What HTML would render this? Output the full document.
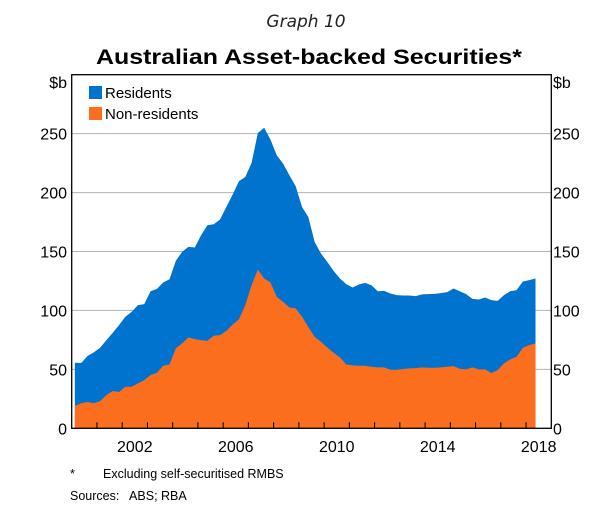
<!DOCTYPE html>
<html><head><meta charset="utf-8"><style>
html,body{margin:0;padding:0;background:#fff;}
svg{display:block;font-family:"Liberation Sans",sans-serif;}
</style></head><body>
<svg id="chart" width="612" height="530" viewBox="0 0 612 530">
<text x="306" y="27" text-anchor="middle" font-family="DejaVu Sans, sans-serif" font-style="italic" font-size="17" fill="#222">Graph 10</text>
<text x="309" y="64" text-anchor="middle" font-weight="bold" font-size="21" textLength="426" lengthAdjust="spacingAndGlyphs" fill="#000">Australian Asset-backed Securities*</text>
<g id="grid"></g>
<g id="areas"></g>
<rect x="71.7" y="74.7" width="479.6" height="353.6" fill="none" stroke="#000" stroke-width="1.3"/>
<g id="ticks"></g>
<g id="ylabels" font-size="16" fill="#000"></g>
<g id="xlabels" font-size="16" fill="#000"></g>
<text x="67" y="88" text-anchor="end" font-size="16">$b</text>
<text x="553" y="88" font-size="16">$b</text>
<g>
<rect x="89" y="86" width="13" height="13" fill="#0073cf"/>
<text x="105" y="98" font-size="15">Residents</text>
<rect x="89" y="107" width="13" height="13" fill="#fa6e1e"/>
<text x="105" y="119" font-size="15">Non-residents</text>
</g>
<text x="70" y="478" font-size="12.5">*</text>
<text x="103" y="478" font-size="12.5">Excluding self-securitised RMBS</text>
<text x="70" y="500" font-size="12.5" xml:space="preserve">Sources:   ABS; RBA</text>
</svg>
<script>
const startYear = 2000.125;
const nonResidents = [18.9,21.2,22.3,21.2,23.1,28.2,31.6,30.8,35.3,35.3,38.1,40.9,45.2,47.1,53.1,54.2,67.8,72,77.1,75.7,74.8,74.2,78.5,79.1,82.5,88.1,92.4,104.5,121.4,134.7,127.1,123.7,111.5,107.3,
102.5,101.7,94.6,86.1,77.6,73.4,68.6,64.1,60.2,54.2,53.4,53.1,53.1,52.2,51.7,51.7,49.7,49.7,50.3,50.8,51.1,51.7,51.4,51.4,51.7,52.2,52.8,50.5,50,51.7,50,50,46.9,49.4,55.1,58.5,60.7,68.3,70.6,72];
const residents = [36.7,34.2,39.0,43.2,45.2,46.6,49.4,56.7,59.3,63.5,66.4,64.4,71.1,71.2,70.6,72.3,74.2,77.7,76.8,77.7,89.0,98.1,94.6,98.0,105.3,110.2,117.2,108.7,103.7,115.8,127.9,121.2,120.1,117.3,
112.2,103.6,93.2,93.2,80.5,74.9,72.6,69.5,66.9,68.1,66.1,68.9,70.3,69.2,64.6,64.9,64.7,63.3,62.4,61.9,61.0,61.9,62.4,62.7,63.0,63.3,65.8,65.8,63.8,58.1,59.3,61.0,61.8,58.7,57.9,57.8,56.5,56.3,55.1,55.1];
const yTicks = [0,50,100,150,200,250];
const xLabelYears = [2002,2006,2010,2014,2018];

const NS = 'http://www.w3.org/2000/svg';
const X0 = 71.7, X1 = 551.3, Y0 = 428.3, Y1 = 74.7;
const xMin = 2000, xMax = 2019, yMin = 0, yMax = 300;
function xs(t){ return X0 + (t - xMin) / (xMax - xMin) * (X1 - X0); }
function ys(v){ return Y0 - (v - yMin) / (yMax - yMin) * (Y0 - Y1); }
function mk(tag, attrs, parent){ const e = document.createElementNS(NS, tag); for (const k in attrs) e.setAttribute(k, attrs[k]); parent.appendChild(e); return e; }

const grid = document.getElementById('grid');
const yl = document.getElementById('ylabels');
yTicks.forEach(v => {
  if (v > 0) {
    const g = mk('line', {x1: X0, x2: X1, y1: ys(v), y2: ys(v), stroke: '#b3b3b3', 'stroke-width': 1}, grid);
    
    
  }
  const l = mk('text', {x: 67, y: ys(v) + 6, 'text-anchor': 'end'}, yl);
  l.textContent = v;
  
  
  const r = mk('text', {x: 553, y: ys(v) + 6}, yl);
  r.textContent = v;
  
  
});

const areas = document.getElementById('areas');
const ts = nonResidents.map((_, i) => startYear + i * 0.25);
const tops = nonResidents.map((v, i) => v + residents[i]);
let pBlue = 'M' + xs(ts[0]) + ',' + ys(0);
ts.forEach((t, i) => { pBlue += ' L' + xs(t) + ',' + ys(tops[i]); });
pBlue += ' L' + xs(ts[ts.length-1]) + ',' + ys(0) + ' Z';
const blue = mk('path', {d: pBlue, fill: '#0073cf'}, areas);


let pOr = 'M' + xs(ts[0]) + ',' + ys(0);
ts.forEach((t, i) => { pOr += ' L' + xs(t) + ',' + ys(nonResidents[i]); });
pOr += ' L' + xs(ts[ts.length-1]) + ',' + ys(0) + ' Z';
const orange = mk('path', {d: pOr, fill: '#fa6e1e'}, areas);



const ticks = document.getElementById('ticks');
for (let yr = 2001; yr <= 2018; yr++) {
  const tk = mk('line', {x1: xs(yr), x2: xs(yr), y1: Y0, y2: Y0 - 6, stroke: '#000', 'stroke-width': 1}, ticks);
  
  
}
const xl = document.getElementById('xlabels');
xLabelYears.forEach(yr => {
  const t = mk('text', {x: xs(yr + 0.5), y: 452, 'text-anchor': 'middle'}, xl);
  t.textContent = yr;
  
  
});
</script>
</body></html>
